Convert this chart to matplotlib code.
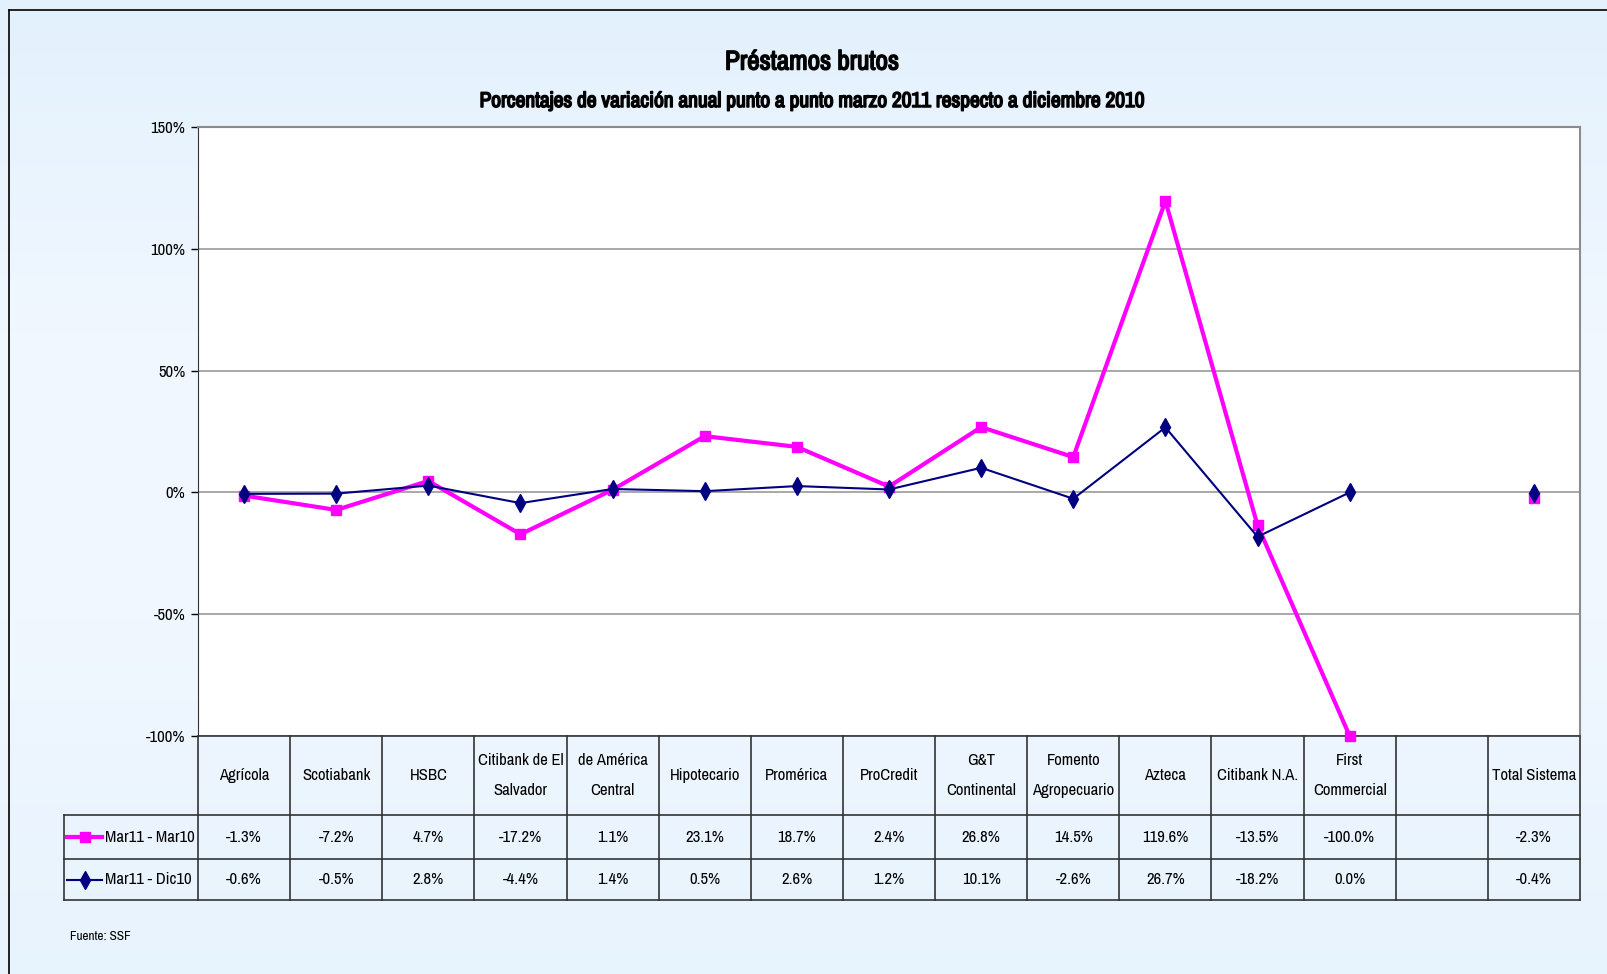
import numpy as np
import matplotlib.pyplot as plt
import matplotlib.patheffects as pe
from matplotlib import font_manager
from matplotlib.lines import Line2D

# look for a narrow / condensed face, otherwise fall back to Liberation Sans
narrow = None
for f in font_manager.fontManager.ttflist:
    if 'Narrow' in f.name or 'Condensed' in f.name:
        narrow = (f.name, 'normal')
        break
if narrow:
    plt.rcParams['font.family'] = [narrow[0], 'DejaVu Sans']
    fs = 12
else:
    plt.rcParams['font.family'] = ['Liberation Sans', 'DejaVu Sans']
    fs = 10.5

# fake the bold weight if the narrow face has none
bold_file = font_manager.findfont(font_manager.FontProperties(family=plt.rcParams['font.family'][0], weight='bold'))
title_fx = [] if 'bold' in bold_file.lower() else [pe.withStroke(linewidth=1.1, foreground='black')]

banks = ['Agrícola', 'Scotiabank', 'HSBC', 'Citibank de El\nSalvador', 'de América\nCentral',
         'Hipotecario', 'Promérica', 'ProCredit', 'G&T\nContinental', 'Fomento\nAgropecuario',
         'Azteca', 'Citibank N.A.', 'First\nCommercial', '', 'Total Sistema']
mar10 = [-1.3, -7.2, 4.7, -17.2, 1.1, 23.1, 18.7, 2.4, 26.8, 14.5, 119.6, -13.5, -100.0, np.nan, -2.3]
dic10 = [-0.6, -0.5, 2.8, -4.4, 1.4, 0.5, 2.6, 1.2, 10.1, -2.6, 26.7, -18.2, 0.0, np.nan, -0.4]
series_names = ['Mar11 - Mar10', 'Mar11 - Dic10']
yticks = [-100, -50, 0, 50, 100, 150]

W, H = 1608, 974
fig = plt.figure(figsize=(W / 100, H / 100), dpi=100)
fig.patch.set_facecolor('#E6F2FC')

# soft vertical gradient like the original background
grad = fig.add_axes([0, 0, 1, 1], zorder=-10)
g = np.array([0.0, 0.35, 0.55, 1.0])
shade = np.interp(np.linspace(0, 1, 200), g, [0.0, 0.9, 1.0, 0.3])
base = np.array([0xE3, 0xF1, 0xFD]) / 255
light = np.array([0xF2, 0xF8, 0xFF]) / 255
img = base[None, :] + (light - base)[None, :] * shade[:, None]
grad.imshow(img[:, None, :], aspect='auto', extent=[0, 1, 0, 1], origin='upper')
grad.axis('off')

# outer frame (only top/left visible in the crop)
fig.add_artist(Line2D([9 / W, 9 / W], [0, 1 - 10 / H], color='black', lw=1.2))
fig.add_artist(Line2D([9 / W, 1], [1 - 10 / H, 1 - 10 / H], color='black', lw=1.2))

# plot area in pixels
px0, px1, py0, py1 = 198, 1580, 127, 736
ax = fig.add_axes([px0 / W, 1 - py1 / H, (px1 - px0) / W, (py1 - py0) / H])
ax.set_facecolor('white')

x = np.arange(len(banks))
ax.plot(x, mar10, color='#FF00FF', lw=3, marker='s', ms=7.5, zorder=3, clip_on=False)
ax.plot(x, dic10, color='#000080', lw=1.5, marker='d', ms=9, zorder=4, clip_on=False)

ax.set_xlim(-0.5, len(banks) - 0.5)
ax.set_ylim(-100, 150)
ax.set_yticks(yticks)
ax.set_yticklabels([f'{v}%' for v in yticks], fontsize=fs)
ax.set_xticks([])
ax.yaxis.grid(True, color='#9A9A9A', lw=1.2)
ax.set_axisbelow(True)
ax.tick_params(axis='y', length=5, width=1, pad=4)
for s in ['top', 'right']:
    ax.spines[s].set_color('#8C8C8C')
    ax.spines[s].set_linewidth(1.5)
ax.spines['left'].set_color('#333333')
ax.spines['bottom'].set_color('#333333')
ax.spines['bottom'].set_linewidth(1.2)

fig.text(0.505, 1 - 62 / H, 'Préstamos brutos', ha='center', va='center',
         fontsize=19.5, fontweight='bold', path_effects=title_fx)
fig.text(0.505, 1 - 101 / H, 'Porcentajes de variación anual punto a punto marzo 2011 respecto a diciembre 2010',
         ha='center', va='center', fontsize=15.4, fontweight='bold', path_effects=title_fx)
fig.text(70 / W, 1 - 936 / H, 'Fuente: SSF', ha='left', va='center', fontsize=9.5)

# data table below the axes
colw = (px1 - px0) / len(banks)
axh = py1 - py0
def yf(py):
    return (py1 - py) / axh
rows = [736, 815, 859, 900]
leg_left = -0.5 - (px0 - 64) / colw
tr = ax.get_xaxis_transform()
lc = '#333333'
for r in rows[1:]:
    ax.plot([leg_left, len(banks) - 0.5], [yf(r)] * 2, color=lc, lw=1.2, transform=tr, clip_on=False)
for i in range(len(banks) + 1):
    ax.plot([i - 0.5] * 2, [0, yf(rows[-1])], color=lc, lw=1.2, transform=tr, clip_on=False)
ax.plot([leg_left] * 2, [yf(rows[1]), yf(rows[-1])], color=lc, lw=1.2, transform=tr, clip_on=False)

hy = (yf(rows[0]) + yf(rows[1])) / 2
for i, b in enumerate(banks):
    ax.text(i, hy, b, transform=tr, ha='center', va='center', fontsize=fs, linespacing=2.25)

vals = [mar10, dic10]
cols = ['#FF00FF', '#000080']
styles = [('s', 3, 7.5), ('d', 1.5, 9)]
for k in range(2):
    ry = (yf(rows[k + 1]) + yf(rows[k + 2])) / 2
    for i, v in enumerate(vals[k]):
        if not np.isnan(v):
            ax.text(i, ry, f'{v:.1f}%', transform=tr, ha='center', va='center', fontsize=fs)
    # legend key in the first column
    m, lw, ms = styles[k]
    lx = leg_left + 3 / colw
    ax.plot([lx, lx + 35 / colw], [ry, ry], color=cols[k], lw=lw, transform=tr, clip_on=False)
    ax.plot([lx + 17.5 / colw], [ry], color=cols[k], marker=m, ms=ms, transform=tr, clip_on=False)
    ax.text(lx + 38 / colw, ry, series_names[k], transform=tr, ha='left', va='center', fontsize=fs)

fig.savefig('out.png', dpi=100, facecolor=fig.get_facecolor())
